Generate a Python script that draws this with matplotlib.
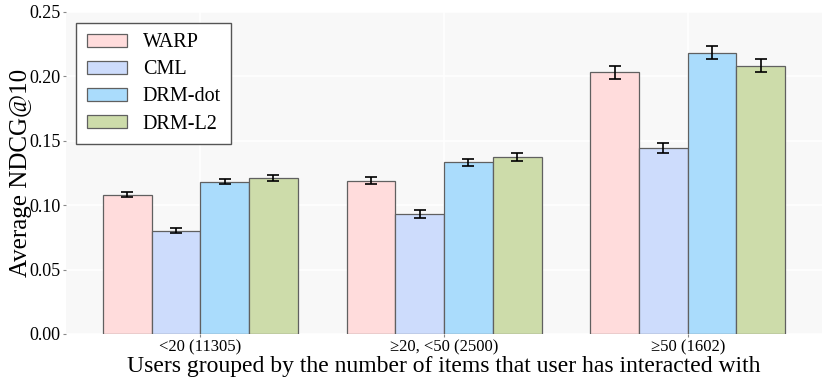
import numpy as np
from matplotlib import pyplot as plt

groups = ['<20 (11305)', '\u226520, <50 (2500)', '\u226550 (1602)']
methods = ['WARP', 'CML', 'DRM-dot', 'DRM-L2']
warp = [0.108, 0.119, 0.203]
cml = [0.080, 0.093, 0.144]
drm_dot = [0.118, 0.133, 0.218]
drm_l2 = [0.121, 0.137, 0.208]
warp_err = [0.002, 0.003, 0.005]
cml_err = [0.002, 0.003, 0.004]
drm_dot_err = [0.002, 0.003, 0.005]
drm_l2_err = [0.002, 0.003, 0.005]
colors = ['#ffdcdc', '#cddcfc', '#aadcfc', '#cddcaa']

plt.rcParams['font.family'] = ['Liberation Serif', 'DejaVu Serif']

fig = plt.figure(figsize=(8.3, 3.87), dpi=100)
ax = fig.add_axes([0.08, 0.137, 0.91, 0.833])
ax.set_facecolor('#f8f8f8')

x = np.arange(len(groups))
width = 0.2
series = [warp, cml, drm_dot, drm_l2]
errs = [warp_err, cml_err, drm_dot_err, drm_l2_err]
for i, (vals, err) in enumerate(zip(series, errs)):
    ax.bar(x + (i - 1.5) * width, vals, width, yerr=err, color=colors[i],
           edgecolor='#606060', linewidth=0.9, label=methods[i], zorder=2,
           error_kw=dict(ecolor='black', elinewidth=1.2, capsize=4, capthick=1.2))

ax.set_xlim(-0.55, 2.55)
ax.set_ylim(0, 0.25)
ax.set_yticks([0, 0.05, 0.10, 0.15, 0.20, 0.25])
ax.set_yticklabels(['0.00', '0.05', '0.10', '0.15', '0.20', '0.25'])
ax.set_xticks(x)
ax.set_xticklabels(groups)
ax.tick_params(axis='y', labelsize=13, length=2, color='#888888', pad=2)
ax.tick_params(axis='x', labelsize=12, length=2, color='#888888', pad=2)
ax.grid(True, color='white', linewidth=1.2, zorder=0)
ax.set_axisbelow(True)
for s in ax.spines.values():
    s.set_visible(False)

ax.set_ylabel('Average NDCG@10', fontsize=18, labelpad=-2)
ax.set_xlabel('Users grouped by the number of items that user has interacted with', fontsize=17, labelpad=0)

leg = ax.legend(loc='upper left', fontsize=14.5, handlelength=2.0, handleheight=0.65,
                fancybox=False, framealpha=1, edgecolor='#555555',
                borderpad=0.5, labelspacing=0.4, handletextpad=0.8,
                bbox_to_anchor=(0.0, 0.995))
leg.get_frame().set_linewidth(1.0)

plt.savefig('out.png')
